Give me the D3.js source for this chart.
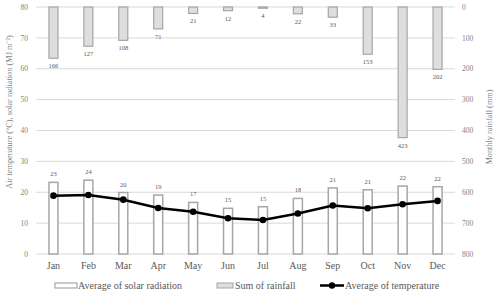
<!DOCTYPE html>
<html><head><meta charset="utf-8">
<script src="https://cdn.jsdelivr.net/npm/d3@7"></script>
<style>body{margin:0;background:#fff}svg{display:block}</style>
</head><body><svg id="c" width="500" height="297" font-family="'Liberation Serif', 'Times New Roman', Times, serif"></svg>
<script>
const months = ["Jan","Feb","Mar","Apr","May","Jun","Jul","Aug","Sep","Oct","Nov","Dec"];
const solar = [23.2,23.9,19.9,19.1,16.7,14.8,15.3,18.0,21.4,20.8,22.0,21.8];
const rainfall = [166,127,108,71,21,12,4,22,33,153,423,202];
const temperature = [18.9,19.1,17.6,14.9,13.7,11.6,11.0,13.1,15.7,14.8,16.1,17.2];
const leftTicks = [0,10,20,30,40,50,60,70,80];
const rightTicks = [0,100,200,300,400,500,600,700,800];

const svg = d3.select("#c");
const L = 36, R = 455, T = 7, B = 254;
const x = d3.scaleBand().domain(months).range([L, R]);
const yL = d3.scaleLinear().domain([0, 80]).range([B, T]);
const yR = d3.scaleLinear().domain([0, 800]).range([T, B]);
const bw = 9;
const cx = i => x(months[i]) + x.bandwidth()/2;

// gridlines
svg.append("g").selectAll("line").data(leftTicks).join("line")
  .attr("x1", L).attr("x2", R).attr("y1", d => yL(d)).attr("y2", d => yL(d))
  .attr("stroke", "#d9d9d9").attr("stroke-width", 1);

// left axis labels
svg.append("g").selectAll("text").data(leftTicks).join("text")
  .attr("x", 28).attr("y", d => yL(d) + 2.7).attr("text-anchor", "end")
  .attr("font-size", 7.5).attr("fill", "#7f7f7f").text(d => d);
// right axis labels
svg.append("g").selectAll("text").data(rightTicks).join("text")
  .attr("x", 462).attr("y", d => yR(d) + 2.7).attr("text-anchor", "start")
  .attr("font-size", 7.5).attr("fill", "#7f7f7f").text(d => d);

// axis titles
svg.append("text").attr("transform", `translate(12,112) rotate(-90)`)
  .attr("text-anchor", "middle").attr("font-size", 8.3).attr("fill", "#7f7f7f")
  .text("Air temperature (°C), solar radiation (MJ m⁻²)");
svg.append("text").attr("transform", `translate(492,127) rotate(-90)`)
  .attr("text-anchor", "middle").attr("font-size", 8.3).attr("fill", "#7f7f7f")
  .text("Monthly rainfall (mm)");

// month labels
svg.append("g").selectAll("text").data(months).join("text")
  .attr("x", (d,i) => cx(i)).attr("y", 269).attr("text-anchor", "middle")
  .attr("font-size", 10).attr("fill", "#595959").text(d => d);

// solar bars
svg.append("g").selectAll("rect").data(solar).join("rect")
  .attr("x", (d,i) => cx(i) - bw/2)
  .attr("y", d => yL(d)).attr("width", bw).attr("height", d => yL(0) - yL(d))
  .attr("fill", "#fff").attr("stroke", "#a6a6a6").attr("stroke-width", 1.5);
svg.append("g").selectAll("text").data(solar).join("text")
  .attr("x", (d,i) => cx(i)).attr("y", d => yL(d) - 6)
  .attr("text-anchor", "middle").attr("font-size", 6.5).attr("fill", "#595959")
  .text(d => Math.round(d));

// rain bars
svg.append("g").selectAll("rect").data(rainfall).join("rect")
  .attr("x", (d,i) => cx(i) - bw/2)
  .attr("y", yR(0)).attr("width", bw).attr("height", d => yR(d) - yR(0))
  .attr("fill", "#dedede").attr("stroke", "#a6a6a6").attr("stroke-width", 1.2);
svg.append("g").selectAll("text").data(rainfall).join("text")
  .attr("x", (d,i) => cx(i)).attr("y", d => yR(d) + 10)
  .attr("text-anchor", "middle").attr("font-size", 6.5).attr("fill", "#595959")
  .text(d => d);

// temperature line
const line = d3.line().x((d,i) => cx(i)).y(d => yL(d));
svg.append("path").datum(temperature).attr("d", line)
  .attr("fill", "none").attr("stroke", "#000").attr("stroke-width", 2.5);
svg.append("g").selectAll("circle").data(temperature).join("circle")
  .attr("cx", (d,i) => cx(i)).attr("cy", d => yL(d))
  .attr("r", 3.3).attr("fill", "#000");

// legend
const ly = 289;
const lg = svg.append("g");
lg.append("rect").attr("x", 55).attr("y", ly - 6).attr("width", 22).attr("height", 5)
  .attr("fill", "#fff").attr("stroke", "#a6a6a6").attr("stroke-width", 1.2);
lg.append("text").attr("x", 78).attr("y", ly).attr("font-size", 10).attr("fill", "#595959")
  .text("Average of solar radiation");
lg.append("rect").attr("x", 217).attr("y", ly - 6).attr("width", 16).attr("height", 5)
  .attr("fill", "#dedede").attr("stroke", "#a6a6a6").attr("stroke-width", 1);
lg.append("text").attr("x", 235).attr("y", ly).attr("font-size", 10).attr("fill", "#595959")
  .text("Sum of rainfall");
lg.append("line").attr("x1", 320).attr("x2", 344).attr("y1", ly - 3.5).attr("y2", ly - 3.5)
  .attr("stroke", "#000").attr("stroke-width", 2.5);
lg.append("circle").attr("cx", 332).attr("cy", ly - 3.5).attr("r", 3.2).attr("fill", "#000");
lg.append("text").attr("x", 345).attr("y", ly).attr("font-size", 10).attr("fill", "#595959")
  .text("Average of temperature");
</script></body></html>
